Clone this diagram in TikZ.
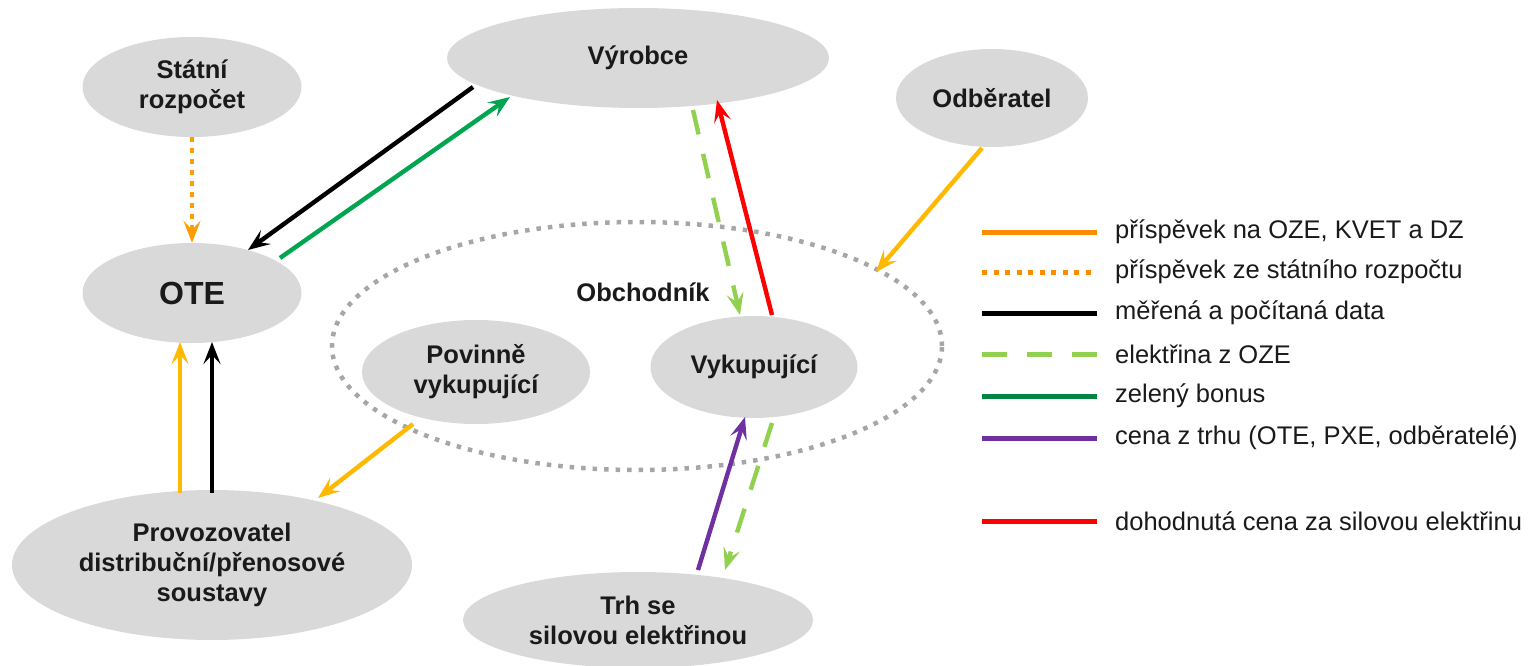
\documentclass[tikz,border=0pt]{standalone}
\usepackage{fontspec}
\setmainfont{Liberation Sans}
\usetikzlibrary{shapes.geometric,arrows.meta,calc}
\definecolor{ellgray}{HTML}{D9D9D9}
\definecolor{dotgray}{HTML}{A6A6A6}
\definecolor{arrorange}{HTML}{FFB900}
\definecolor{legorange}{HTML}{FF8C00}
\definecolor{lgreen}{HTML}{92D050}
\definecolor{dgreen}{HTML}{00A550}
\definecolor{purp}{HTML}{7030A0}
\definecolor{txt}{HTML}{1A1A1A}
\tikzset{
  ell/.style={ellipse,fill=ellgray,inner sep=0pt,text=txt,align=center,
    font=\fontsize{25.5}{30}\selectfont\bfseries},
  conn/.style={line width=4.4pt,-{Stealth[length=22pt,width=17pt,inset=9pt]}},
  legline/.style={line width=5pt},
  legtext/.style={anchor=west,text=txt,font=\fontsize{25.5}{30}\selectfont,inner sep=0pt},
}
\begin{document}
\begin{tikzpicture}[x=1pt,y=-1pt]
\useasboundingbox (0,0) rectangle (1539,666);
% dotted Obchodník region
\node[ellipse,draw=dotgray,line width=4.5pt,dash pattern=on 4.5pt off 7pt,
  minimum width=610pt,minimum height=248pt,inner sep=0pt] (obch) at (637,346) {};
\node[text=txt,font=\fontsize{25.5}{30}\selectfont\bfseries] (obchl) at (643,292) {Obchodník};
% nodes
\node[ell,minimum width=219pt,minimum height=100pt] (st) at (192,87) {Státní\\rozpočet};
\node[ell,minimum width=219pt,minimum height=100pt,font=\fontsize{32}{38}\selectfont\bfseries] (ote) at (192,293) {OTE};
\node[ell,minimum width=382pt,minimum height=100pt] (vyr) at (638,58) {Výrobce};
\node[ell,minimum width=192pt,minimum height=98pt] (odb) at (992,98) {Odběratel};
\node[ell,minimum width=228pt,minimum height=104pt] (pov) at (476,372) {Povinně\\vykupující};
\node[ell,minimum width=207pt,minimum height=102pt] (vyk) at (754,367) {Vykupující};
\node[ell,minimum width=400pt,minimum height=150pt] (prov) at (212,565) {Provozovatel\\distribuční/přenosové\\soustavy};
\node[ell,minimum width=350pt,minimum height=96pt] (trh) at (638,620) {Trh se\\silovou elektřinou};
% connectors
\draw[conn,black] ($(vyr)+(-165,29)$) -- ($(ote)+(56,-43)$);
\draw[conn,dgreen] ($(ote)+(88,-35)$) -- ($(vyr)+(-128,39)$);
\draw[conn,legorange!60!arrorange,dash pattern=on 5pt off 6pt] (st.south) -- (ote.north);
\draw[conn,lgreen,dash pattern=on 25pt off 20pt] ($(vyr)+(55,52)$) -- ($(vyk)+(-14,-52)$);
\draw[conn,red] ($(vyk)+(18,-52)$) -- ($(vyr)+(79,42)$);
\draw[conn,arrorange] ($(odb)+(-10,50)$) -- ($(obch)+(239,-74)$);
\draw[conn,arrorange] ($(prov)+(-32,-72)$) -- ($(ote)+(-12,49)$);
\draw[conn,black] ($(prov)+(0,-72)$) -- ($(ote)+(20,49)$);
\draw[conn,arrorange] ($(pov)+(-63,52)$) -- ($(prov)+(106,-67)$);
\draw[conn,purp] ($(trh)+(60,-50)$) -- ($(vyk)+(-9,50)$);
\draw[conn,lgreen,dash pattern=on 25pt off 20pt] ($(vyk)+(18,56)$) -- ($(trh)+(87,-50)$);
% legend
\coordinate (l1a) at (982,232); \coordinate (l1b) at (1097,232);
\coordinate (l2a) at (982,272); \coordinate (l2b) at (1097,272);
\coordinate (l3a) at (982,313); \coordinate (l3b) at (1097,313);
\coordinate (l4a) at (982,354); \coordinate (l4b) at (1097,354);
\coordinate (l5a) at (982,396); \coordinate (l5b) at (1097,396);
\coordinate (l6a) at (982,438); \coordinate (l6b) at (1097,438);
\coordinate (l7a) at (982,521); \coordinate (l7b) at (1097,521);
\draw[legline,legorange] (l1a) -- (l1b);
\draw[legline,legorange,dash pattern=on 5pt off 6.5pt] (l2a) -- (l2b);
\draw[legline,black] (l3a) -- (l3b);
\draw[legline,lgreen,dash pattern=on 25pt off 20pt] (l4a) -- (l4b);
\draw[legline,dgreen!80!black] (l5a) -- (l5b);
\draw[legline,purp] (l6a) -- (l6b);
\draw[legline,red] (l7a) -- (l7b);
\node[legtext] (t1) at (1115,232) {příspěvek na OZE, KVET a DZ};
\node[legtext] (t2) at (1115,272) {příspěvek ze státního rozpočtu};
\node[legtext] (t3) at (1115,313) {měřená a počítaná data};
\node[legtext] (t4) at (1115,354) {elektřina z OZE};
\node[legtext] (t5) at (1115,396) {zelený bonus};
\node[legtext] (t6) at (1115,438) {cena z trhu (OTE, PXE, odběratelé)};
\node[legtext] (t7) at (1115,521) {dohodnutá cena za silovou elektřinu};
\end{tikzpicture}
\end{document}
